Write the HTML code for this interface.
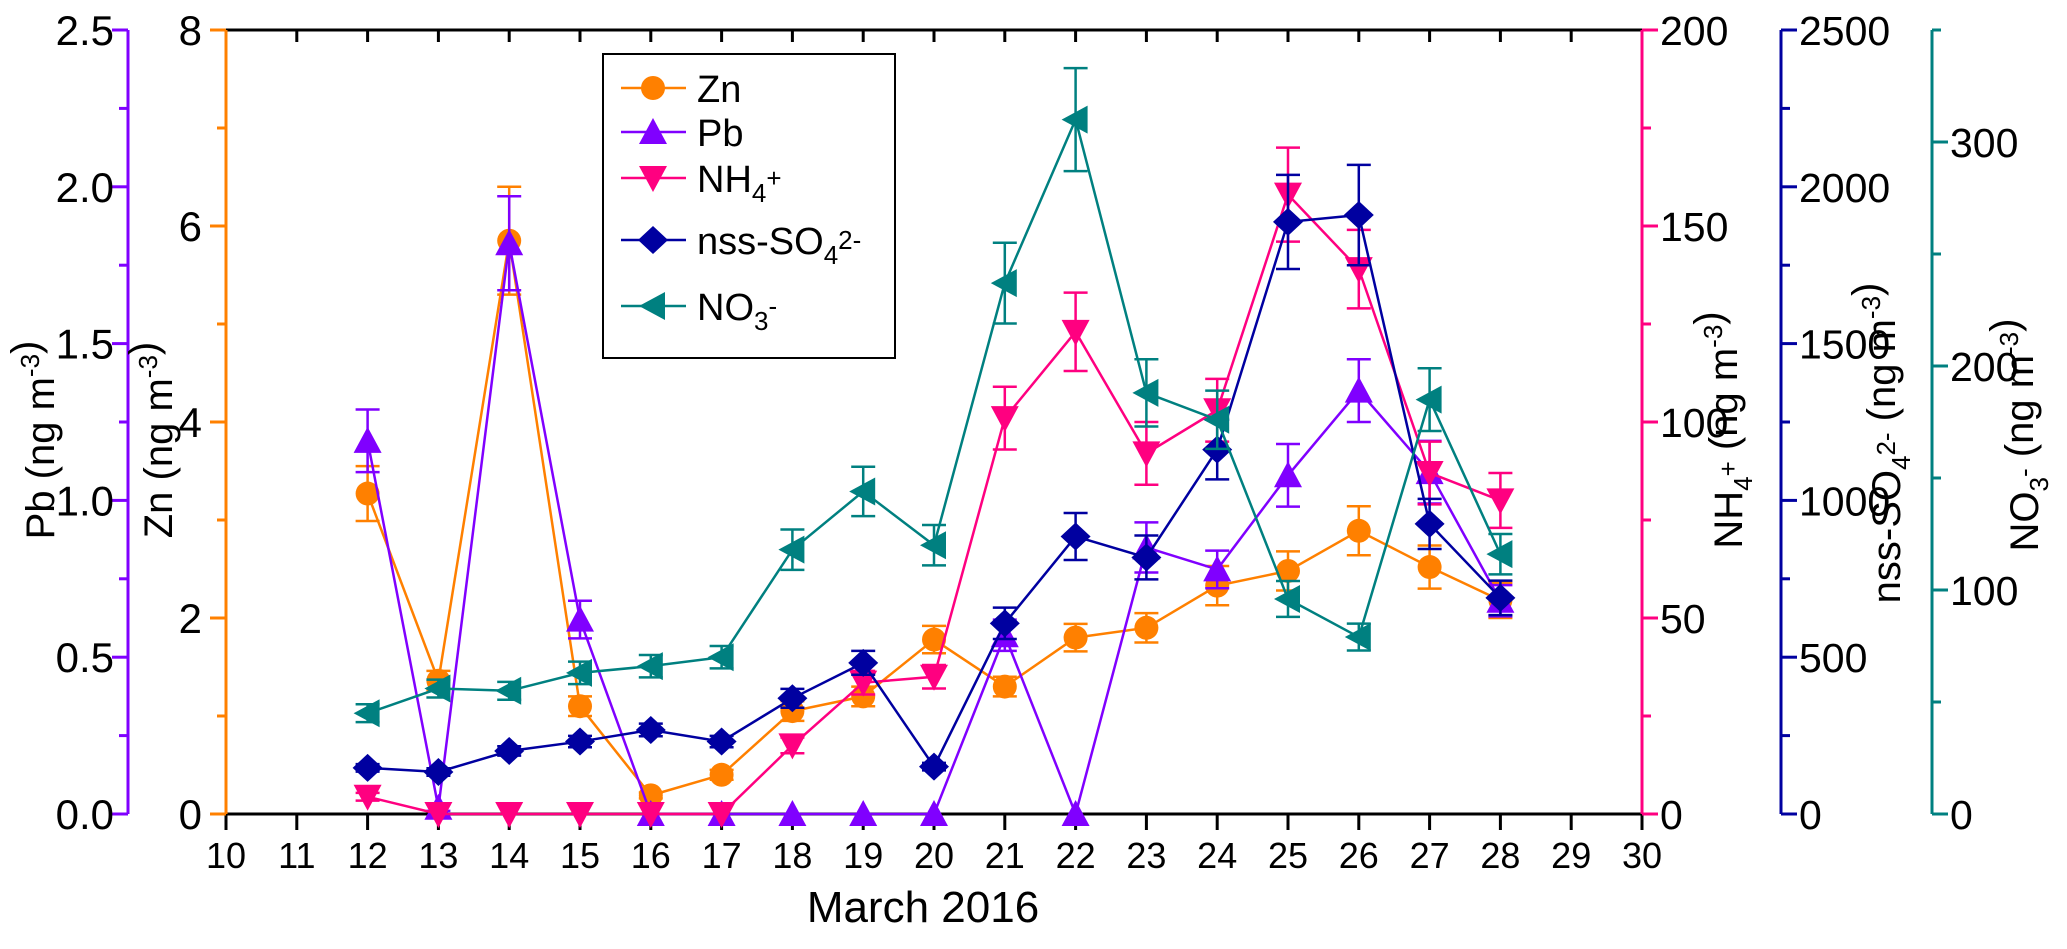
<!DOCTYPE html>
<html><head><meta charset="utf-8"><style>
body{margin:0;background:#fff}
svg{display:block;font-family:"Liberation Sans",Arial,sans-serif}
</style></head><body>
<svg id="chart" width="2067" height="949" viewBox="0 0 2067 949" xmlns="http://www.w3.org/2000/svg">
<g id="axes"></g>
<g id="series"></g>
<g id="legend"></g>
</svg>
<script>
const days = [12,13,14,15,16,17,18,19,20,21,22,23,24,25,26,27,28];
const xTicks = [10,11,12,13,14,15,16,17,18,19,20,21,22,23,24,25,26,27,28,29,30];
const znVals = [3.27,1.36,5.85,1.1,0.19,0.4,1.05,1.2,1.78,1.3,1.8,1.9,2.33,2.48,2.89,2.52,2.18];
const znErr  = [0.28,0.1,0.55,0.1,0.03,0.05,0.1,0.1,0.14,0.1,0.14,0.15,0.2,0.2,0.25,0.22,0.18];
const pbVals = [1.19,0.02,1.82,0.62,0,0,0,0,0,0.57,0,0.85,0.78,1.08,1.35,1.09,0.68];
const pbErr  = [0.1,0.01,0.15,0.06,0,0,0,0,0,0.05,0,0.08,0.06,0.1,0.1,0.1,0.05];
const nh4Vals = [4.4,0,0,0,0,0,17.5,33.5,35,101,123,92,103,158,139,87,80];
const nh4Err  = [1,0,0,0,0,0,2,3,3,8,10,8,8,12,10,8,7];
const so4Vals = [147,134,201,231,268,231,369,482,151,608,885,818,1162,1888,1910,925,689];
const so4Err  = [12,12,15,18,20,18,30,38,12,50,75,70,95,150,160,80,55];
const no3Vals = [45,56,55,63,66,70,118,144,120,237,310,188,176,96,79,185,116];
const no3Err  = [4,4,4,5,5,5,9,11,9,18,23,15,13,8,6,14,9];

const NS="http://www.w3.org/2000/svg";
const X0=226,X1=1642,Y0=814,Y1=30;
const xs=d=>X0+(d-10)*(X1-X0)/20;
const mkY=max=>v=>Y0-v*(Y0-Y1)/max;
const yZn=mkY(8),yPb=mkY(2.5),yNH=mkY(200),ySO=mkY(2500),yNO=mkY(350);
function el(tag,attrs,parent){const e=document.createElementNS(NS,tag);for(const k in attrs)e.setAttribute(k,attrs[k]);parent.appendChild(e);return e;}
const axes=document.getElementById('axes'),series=document.getElementById('series'),legend=document.getElementById('legend');

let f=el('line',{x1:X0,y1:Y1,x2:X1,y2:Y1,stroke:'#000','stroke-width':3},axes);

f=el('line',{x1:X0,y1:Y0,x2:X1,y2:Y0,stroke:'#000','stroke-width':3},axes);

xTicks.forEach(t=>{
  el('line',{x1:xs(t),y1:Y0,x2:xs(t),y2:Y0+16,stroke:'#000','stroke-width':3},axes);
  el('line',{x1:xs(t),y1:Y1,x2:xs(t),y2:Y1+12,stroke:'#000','stroke-width':3},axes);
  const tx=el('text',{x:xs(t),y:868,'font-size':36,'text-anchor':'middle'},axes);
  tx.textContent=t;
  
  
});
const xt=el('text',{x:923,y:922,'font-size':44,'text-anchor':'middle'},axes);
xt.textContent='March  2016';



function vAxis(x,color,max,major,minor,yf,side,fmt,name,fs,gap){
  const g=el('g',{},axes);
  
  
  el('line',{x1:x,y1:Y0,x2:x,y2:Y1,stroke:color,'stroke-width':3},g);
  const dir=side==='left'?-1:1;
  for(let v=0;v<=max+1e-9;v+=minor){
    const isMaj=Math.abs(v/major-Math.round(v/major))<1e-6;
    el('line',{x1:x,y1:yf(v),x2:x+dir*(isMaj?16:9),y2:yf(v),stroke:color,'stroke-width':3},g);
    if(isMaj){
      const t=el('text',{x:x+dir*gap,y:yf(v)+15,'font-size':fs,'text-anchor':side==='left'?'end':'start'},g);
      t.textContent=fmt(v);
    }
  }
}
vAxis(128,'#8000FF',2.5,0.5,0.25,yPb,'left',v=>v.toFixed(1),'pb-axis',42,14);
vAxis(226,'#FF8000',8,2,1,yZn,'left',v=>String(Math.round(v)),'zn-axis',42,24);
vAxis(1642,'#FF0080',200,50,25,yNH,'right',v=>String(Math.round(v)),'nh4-axis',41,18);
vAxis(1781,'#0000A0',2500,500,250,ySO,'right',v=>String(Math.round(v)),'so4-axis',41,18);
vAxis(1932,'#008080',350,100,50,yNO,'right',v=>String(Math.round(v)),'no3-axis',41,18);

function vTitle(cx,cy,html,name){
  const t=el('text',{x:0,y:0,'font-size':40,'text-anchor':'middle',transform:`translate(${cx},${cy}) rotate(-90)`},axes);
  t.innerHTML=html;
  
  
}
const sup=s=>`<tspan dy="-15" font-size="26">${s}</tspan><tspan dy="15"></tspan>`;
const sub=s=>`<tspan dy="10" font-size="26">${s}</tspan><tspan dy="-10"></tspan>`;
vTitle(54,440,`Pb (ng m${sup('-3')})`,'pb-axis-title');
vTitle(172,440,`Zn (ng m${sup('-3')})`,'zn-axis-title');
vTitle(1742,430,`NH${sub('4')}${sup('+')} (ng m${sup('-3')})`,'nh4-axis-title');
vTitle(1900,443,`nss-SO${sub('4')}${sup('2-')} (ng m${sup('-3')})`,'so4-axis-title');
vTitle(2038,435,`NO${sub('3')}${sup('-')} (ng m${sup('-3')})`,'no3-axis-title');

function marker(shape,x,y,color,parent){
  const r=12;
  if(shape==='circle') return el('circle',{cx:x,cy:y,r:r,fill:color},parent);
  let p;
  if(shape==='up') p=[[x,y-r-2],[x+r+2,y+r],[x-r-2,y+r]];
  if(shape==='down') p=[[x,y+r+2],[x+r+2,y-r],[x-r-2,y-r]];
  if(shape==='diamond') p=[[x,y-r-2],[x+r+3,y],[x,y+r+2],[x-r-3,y]];
  if(shape==='left') p=[[x-r-2,y],[x+r,y-r-2],[x+r,y+r+2]];
  return el('polygon',{points:p.map(q=>q.join(',')).join(' '),fill:color},parent);
}
const defs=[
 {name:'zn',vals:znVals,err:znErr,yf:yZn,color:'#FF8000',shape:'circle'},
 {name:'pb',vals:pbVals,err:pbErr,yf:yPb,color:'#8000FF',shape:'up'},
 {name:'nh4',vals:nh4Vals,err:nh4Err,yf:yNH,color:'#FF0080',shape:'down'},
 {name:'so4',vals:so4Vals,err:so4Err,yf:ySO,color:'#0000A0',shape:'diamond'},
 {name:'no3',vals:no3Vals,err:no3Err,yf:yNO,color:'#008080',shape:'left'}];
defs.forEach(s=>{
  const g=el('g',{},series);
  
  
  const pl=el('polyline',{points:days.map((d,i)=>xs(d)+','+s.yf(s.vals[i])).join(' '),fill:'none',stroke:s.color,'stroke-width':2.5},g);
  
  
  days.forEach((d,i)=>{
    const x=xs(d),v=s.vals[i],e=s.err[i];
    if(e>0){
      const yt=s.yf(v+e),yb=s.yf(v-e);
      el('line',{x1:x,y1:yt,x2:x,y2:yb,stroke:s.color,'stroke-width':2.5},g);
      el('line',{x1:x-12,y1:yt,x2:x+12,y2:yt,stroke:s.color,'stroke-width':2.5},g);
      el('line',{x1:x-12,y1:yb,x2:x+12,y2:yb,stroke:s.color,'stroke-width':2.5},g);
    }
    const m=marker(s.shape,x,s.yf(v),s.color,g);
    
    
  });
});

const lb=el('rect',{x:603,y:54,width:292,height:304,fill:'#fff',stroke:'#000','stroke-width':2},legend);


const legY=[88,132,178,240,306];
const legTxt=['Zn','Pb',`NH${sub('4')}${sup('+')}`,`nss-SO${sub('4')}${sup('2-')}`,`NO${sub('3')}${sup('-')}`];
defs.forEach((s,i)=>{
  const g=el('g',{},legend);
  
  
  el('line',{x1:621,y1:legY[i],x2:686,y2:legY[i],stroke:s.color,'stroke-width':2.5},g);
  marker(s.shape,653,legY[i],s.color,g);
  const t=el('text',{x:697,y:legY[i]+14,'font-size':38},g);
  t.innerHTML=legTxt[i];
});
</script>
</body></html>
